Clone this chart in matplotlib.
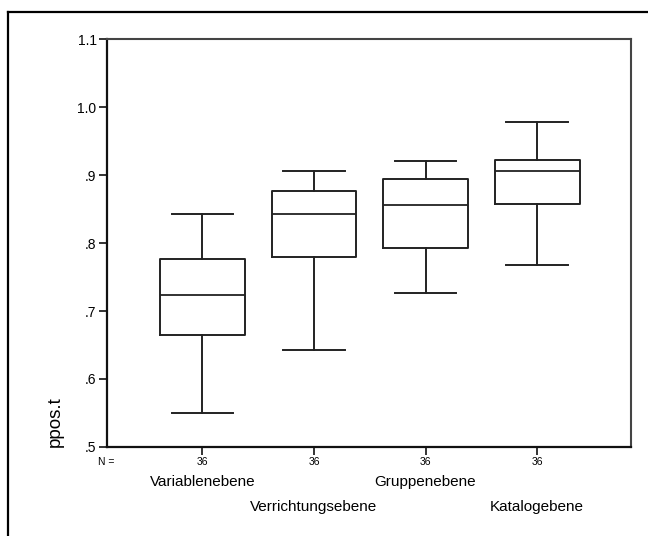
import matplotlib
matplotlib.use("Agg")
import matplotlib.pyplot as plt
from matplotlib.lines import Line2D

plt.rcParams['font.family'] = ['Liberation Sans', 'DejaVu Sans']

categories = ["Variablenebene", "Verrichtungsebene", "Gruppenebene", "Katalogebene"]
n_counts = [36, 36, 36, 36]
whisker_low = [0.550, 0.643, 0.726, 0.768]
q1 = [0.664, 0.780, 0.792, 0.858]
median = [0.724, 0.842, 0.856, 0.906]
q3 = [0.777, 0.876, 0.894, 0.922]
whisker_high = [0.842, 0.906, 0.920, 0.978]
y_ticks = [0.5, 0.6, 0.7, 0.8, 0.9, 1.0, 1.1]
y_tick_labels = [".5", ".6", ".7", ".8", ".9", "1.0", "1.1"]

fig = plt.figure(figsize=(6.48, 5.36), dpi=100)
left_px, right_px, top_px, bottom_px = 107, 631, 39, 447
ax = fig.add_axes([left_px / 648, 1 - bottom_px / 536,
                   (right_px - left_px) / 648, (bottom_px - top_px) / 536])

stats = []
for i, name in enumerate(categories):
    stats.append(dict(label=name, whislo=whisker_low[i], q1=q1[i], med=median[i],
                      q3=q3[i], whishi=whisker_high[i], fliers=[]))

positions = list(range(1, len(categories) + 1))
line_col = "#222222"
ax.bxp(stats, positions=positions, widths=0.76, capwidths=0.55, showfliers=False,
       boxprops=dict(color=line_col, linewidth=1.4),
       medianprops=dict(color=line_col, linewidth=1.3),
       whiskerprops=dict(color=line_col, linewidth=1.4),
       capprops=dict(color=line_col, linewidth=1.4))

ax.set_xlim(0.146, 4.841)
ax.set_ylim(0.5, 1.1)
ax.set_yticks(y_ticks)
ax.set_yticklabels(y_tick_labels, fontsize=10)
ax.set_xticks(positions)
ax.set_xticklabels([])
ax.tick_params(axis='both', direction='out', length=5.5, width=1.2, color='#111111')
ax.tick_params(axis='y', pad=2)

for side in ("left", "bottom"):
    ax.spines[side].set_color("#111111")
    ax.spines[side].set_linewidth(1.6)
for side in ("top", "right"):
    ax.spines[side].set_color("#444444")
    ax.spines[side].set_linewidth(1.5)

xform = ax.get_xaxis_transform()
ax.text(-0.002, -0.037, "N =", transform=ax.transAxes, ha='center', va='center', fontsize=7.5)
for pos, n in zip(positions, n_counts):
    ax.text(pos, -0.037, str(n), transform=xform, ha='center', va='center', fontsize=7.5)
for pos, name in zip(positions, categories):
    y = -0.087 if pos % 2 == 1 else -0.148
    ax.text(pos, y, name, transform=xform, ha='center', va='center', fontsize=11)

ax.text(-0.099, 0.0, "ppos.t", transform=ax.transAxes, rotation=90,
        ha='center', va='bottom', fontsize=13.5)

# open frame around the chart area: top and left edges only
fx, fy = 8 / 648, 1 - 12 / 536
fig.add_artist(Line2D([fx, 1.0], [fy, fy], transform=fig.transFigure, color='black', linewidth=1.6))
fig.add_artist(Line2D([fx, fx], [fy, 0.0], transform=fig.transFigure, color='black', linewidth=1.6))

fig.savefig("out.png", dpi=100)
